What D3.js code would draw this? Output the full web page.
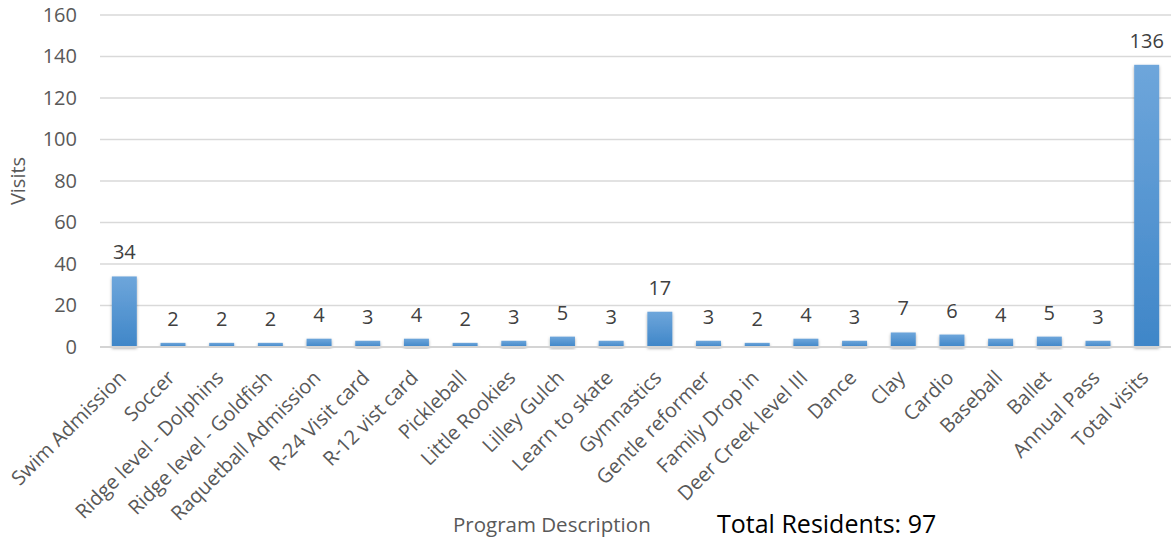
<!DOCTYPE html>
<html>
<head>
<meta charset="utf-8">
<script src="https://cdn.jsdelivr.net/npm/d3@7"></script>
<style>
  body { margin: 0; background: #fff; }
  svg { display: block; font-family: "Open Sans", sans-serif; }
</style>
</head>
<body>
<svg id="chart" width="1171" height="541"></svg>
<script>
var programs = [
    "Swim Admission", "Soccer", "Ridge level - Dolphins", "Ridge level - Goldfish",
    "Raquetball Admission", "R-24 Visit card", "R-12 vist card", "Pickleball",
    "Little Rookies", "Lilley Gulch", "Learn to skate", "Gymnastics",
    "Gentle reformer", "Family Drop in", "Deer Creek level III", "Dance",
    "Clay", "Cardio", "Baseball", "Ballet", "Annual Pass", "Total visits"
];
var visits = [34, 2, 2, 2, 4, 3, 4, 2, 3, 5, 3, 17, 3, 2, 4, 3, 7, 6, 4, 5, 3, 136];
var yTicks = [0, 20, 40, 60, 80, 100, 120, 140, 160];
var totalResidents = 97;

var svg = d3.select( "#chart" );
var plotLeft = 100, plotRight = 1171, plotTop = 15, plotBottom = 347;

var data = programs.map( function ( p, i ) { return { k: p, v: visits[ i ] } } );

var x = d3.scaleBand()
    .domain( programs )
    .range( [ plotLeft, plotRight ] )
    .paddingInner( 0.487 )
    .paddingOuter( 0.243 );

var y = d3.scaleLinear()
    .domain( [ 0, 160 ] )
    .range( [ plotBottom, plotTop ] );

// bar fill + soft shadow
var defs = svg.append( "defs" );
var grad = defs.append( "linearGradient" )
    .attr( "id", "barFill" )
    .attr( "x1", 0 ).attr( "y1", 0 ).attr( "x2", 0 ).attr( "y2", 1 );
grad.append( "stop" ).attr( "offset", "0%" ).attr( "stop-color", "#6ea6db" );
grad.append( "stop" ).attr( "offset", "100%" ).attr( "stop-color", "#3f86c8" );

var shadow = defs.append( "filter" )
    .attr( "id", "barShadow" )
    .attr( "x", "-50%" ).attr( "y", "-10%" )
    .attr( "width", "200%" ).attr( "height", "130%" );
shadow.append( "feDropShadow" )
    .attr( "dx", 0 ).attr( "dy", 1.5 )
    .attr( "stdDeviation", 1.6 )
    .attr( "flood-color", "#000" )
    .attr( "flood-opacity", 0.35 );

// gridlines
svg.append( "g" )
    .selectAll( "line" )
    .data( yTicks.filter( function ( t ) { return t > 0 } ) )
    .enter().append( "line" )
    .attr( "x1", plotLeft ).attr( "x2", plotRight )
    .attr( "y1", function ( d ) { return y( d ) } )
    .attr( "y2", function ( d ) { return y( d ) } )
    .style( "stroke", "#d9d9d9" )
    .style( "stroke-width", 1.3 );

// y axis labels
var yAxis = svg.append( "g" )
    .attr( "transform", "translate(" + plotLeft + ",0)" )
    .call( d3.axisLeft( y ).tickValues( yTicks ).tickSize( 0 ).tickPadding( 23 ) );
yAxis.select( ".domain" ).remove();
yAxis.selectAll( "text" )
    .style( "font-family", "Open Sans, sans-serif" )
    .style( "font-size", "20px" )
    .style( "fill", "#595959" );

// bars
svg.append( "g" )
    .selectAll( "rect" )
    .data( data )
    .enter().append( "rect" )
    .attr( "x", function ( d ) { return x( d.k ) } )
    .attr( "width", x.bandwidth() )
    .attr( "y", function ( d ) { return y( d.v ) } )
    .attr( "height", function ( d ) { return plotBottom - y( d.v ) } )
    .style( "fill", "url(#barFill)" )
    .style( "filter", "url(#barShadow)" );

// baseline
svg.append( "line" )
    .attr( "x1", plotLeft ).attr( "x2", plotRight )
    .attr( "y1", plotBottom ).attr( "y2", plotBottom )
    .style( "stroke", "#d4d4d4" )
    .style( "stroke-width", 2 );

// value labels
svg.append( "g" )
    .selectAll( "text" )
    .data( data )
    .enter().append( "text" )
    .attr( "x", function ( d ) { return x( d.k ) + x.bandwidth() / 2 } )
    .attr( "y", function ( d ) { return y( d.v ) - 17 } )
    .attr( "text-anchor", "middle" )
    .style( "font-size", "20px" )
    .style( "fill", "#404040" )
    .text( function ( d ) { return d.v } );

// category labels, rotated
svg.append( "g" )
    .selectAll( "text" )
    .data( programs )
    .enter().append( "text" )
    .attr( "transform", function ( d ) {
        var cx = x( d ) + x.bandwidth() / 2;
        return "translate(" + ( cx + 3 ) + "," + ( plotBottom + 32 ) + ") rotate(-45)";
    })
    .attr( "text-anchor", "end" )
    .style( "font-size", "20px" )
    .style( "fill", "#595959" )
    .text( function ( d ) { return d } );

// axis titles
svg.append( "text" )
    .attr( "transform", "translate(25,181) rotate(-90)" )
    .attr( "text-anchor", "middle" )
    .style( "font-size", "20px" )
    .style( "fill", "#595959" )
    .text( "Visits" );

svg.append( "text" )
    .attr( "x", 453 ).attr( "y", 532 )
    .style( "font-size", "20.5px" )
    .style( "fill", "#595959" )
    .text( "Program Description" );

svg.append( "text" )
    .attr( "x", 717 ).attr( "y", 533 )
    .style( "font-size", "25px" )
    .style( "fill", "#000" )
    .text( "Total Residents: " + totalResidents );
</script>
</body>
</html>
